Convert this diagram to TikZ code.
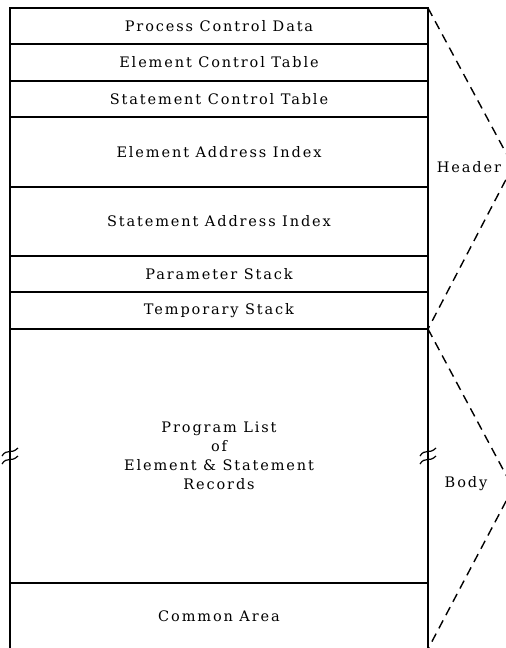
\documentclass[tikz,border=0pt]{standalone}
\usepackage{fontspec}
\setmainfont{DejaVu Serif}[LetterSpace=13]
\usepackage{tikz}
\usetikzlibrary{positioning}

\begin{document}
\begin{tikzpicture}[x=1pt,y=1pt,node distance=0pt,
  every node/.style={font=\fontsize{14.5}{19}\selectfont},
  band/.style={draw,line width=1.6pt,minimum width=418pt,inner sep=0pt,outer sep=0pt},
  gap/.style={line width=1.4pt,dash pattern=on 9pt off 6pt}]
\useasboundingbox (0,0) rectangle (506,-648);
\node[band,minimum height=36pt,anchor=north] (pcd) at (219,-8) {Process Control Data};
\node[band,minimum height=37pt,below=of pcd] (ect) {Element Control Table};
\node[band,minimum height=36pt,below=of ect] (sct) {Statement Control Table};
\node[band,minimum height=70pt,below=of sct] (eai) {Element Address Index};
\node[band,minimum height=69pt,below=of eai] (sai) {Statement Address Index};
\node[band,minimum height=36pt,below=of sai] (par) {Parameter Stack};
\node[band,minimum height=37pt,below=of par] (tmp) {Temporary Stack};
\node[band,minimum height=254pt,below=of tmp,align=center] (prog) {Program List\\of\\Element \& Statement\\Records};
\node[band,minimum height=66pt,below=of prog] (com) {Common Area};
% header / body brackets
\coordinate (htip) at (513,-166);
\coordinate (btip) at (513,-488);
\draw[gap] (pcd.north east) -- (htip) -- (tmp.south east);
\draw[gap] (prog.north east) -- (btip) -- (com.south east);
\node (hdr) at (469,-167) {Header};
\node (bdy) at (466,-484) {Body};
% break marks
\foreach \s in {prog.west,prog.east}
  \foreach \dy in {-3,5}
    \draw[line width=1.2pt,shift={(\s)}] (-8,\dy-5) .. controls (-3,\dy+3) and (1,\dy-4) .. (8,\dy+3);
\end{tikzpicture}
\end{document}
